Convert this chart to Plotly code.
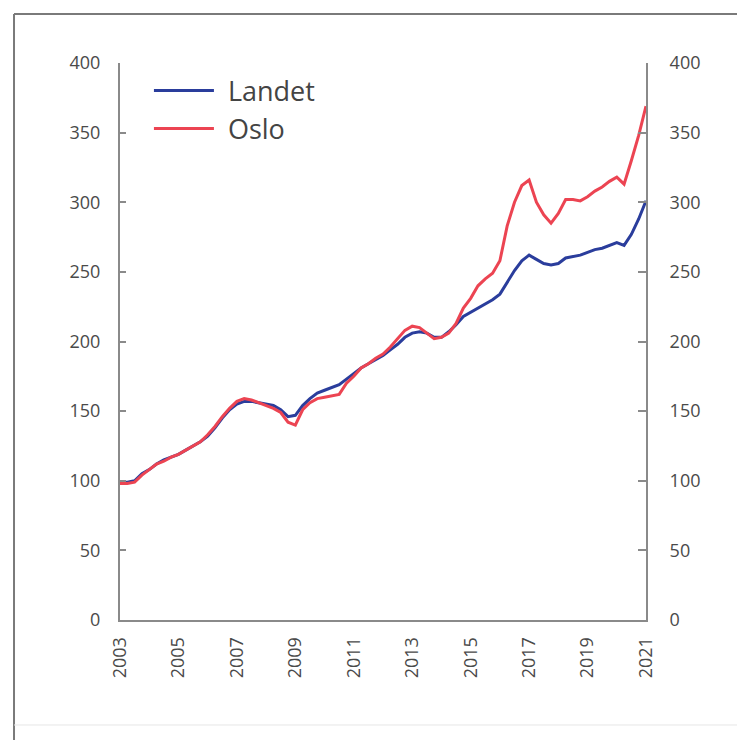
import plotly.graph_objects as go

# Quarterly observations (fractional year)
quarters = [
    2003.00, 2003.25, 2003.50, 2003.75, 2004.00, 2004.25, 2004.50, 2004.75,
    2005.00, 2005.25, 2005.50, 2005.75, 2006.00, 2006.25, 2006.50, 2006.75,
    2007.00, 2007.25, 2007.50, 2007.75, 2008.00, 2008.25, 2008.50, 2008.75,
    2009.00, 2009.25, 2009.50, 2009.75, 2010.00, 2010.25, 2010.50, 2010.75,
    2011.00, 2011.25, 2011.50, 2011.75, 2012.00, 2012.25, 2012.50, 2012.75,
    2013.00, 2013.25, 2013.50, 2013.75, 2014.00, 2014.25, 2014.50, 2014.75,
    2015.00, 2015.25, 2015.50, 2015.75, 2016.00, 2016.25, 2016.50, 2016.75,
    2017.00, 2017.25, 2017.50, 2017.75, 2018.00, 2018.25, 2018.50, 2018.75,
    2019.00, 2019.25, 2019.50, 2019.75, 2020.00, 2020.25, 2020.50, 2020.75,
    2021.00,
]

landet = [
    99, 99, 100, 105, 108, 112, 115, 117,
    119, 122, 125, 128, 132, 138, 145, 151,
    155, 157, 157, 156, 155, 154, 151, 146,
    147, 154, 159, 163, 165, 167, 169, 173,
    177, 181, 184, 187, 190, 194, 198, 203,
    206, 207, 206, 203, 203, 207, 212, 218,
    221, 224, 227, 230, 234, 243, 251, 258,
    262, 259, 256, 255, 256, 260, 261, 262,
    264, 266, 267, 269, 271, 269, 277, 288,
    301,
]

oslo = [
    98, 98, 99, 104, 108, 112, 114, 117,
    119, 122, 125, 128, 133, 139, 146, 152,
    157, 159, 158, 156, 154, 152, 149, 142,
    140, 151, 156, 159, 160, 161, 162, 170,
    175, 181, 184, 188, 191, 196, 202, 208,
    211, 210, 206, 202, 203, 206, 213, 224,
    231, 240, 245, 249, 258, 283, 300, 312,
    316, 300, 291, 285, 292, 302, 302, 301,
    304, 308, 311, 315, 318, 313, 330, 348,
    369,
]

series_names = ["Landet", "Oslo"]
x_ticks = [2003, 2005, 2007, 2009, 2011, 2013, 2015, 2017, 2019, 2021]
x_ticktext = [str(v) for v in x_ticks]
y_ticks = [0, 50, 100, 150, 200, 250, 300, 350, 400]

BLUE = "#2a3d9c"
RED = "#ec4452"
AXIS = "#8a8a8a"
TXT = "#4a4a4a"
PAD = "\u2009\u2009"

fig = go.Figure()
fig.add_trace(go.Scatter(x=quarters, y=landet, name=PAD + series_names[0], mode="lines",
                         line=dict(color=BLUE, width=3), legendgroup="a"))
fig.add_trace(go.Scatter(x=quarters, y=oslo, name=PAD + series_names[1], mode="lines",
                         line=dict(color=RED, width=3), legendgroup="b"))
# invisible trace to activate right axis
fig.add_trace(go.Scatter(x=[quarters[0]], y=[landet[0]], yaxis="y2",
                         mode="lines", showlegend=False, hoverinfo="skip",
                         line=dict(color="rgba(0,0,0,0)")))

fig.update_layout(
    width=745, height=740,
    margin=dict(l=112, r=107, t=55, b=128),
    paper_bgcolor="white", plot_bgcolor="white",
    font=dict(family="Open Sans", color=TXT, size=18),
    showlegend=True,
    legend=dict(x=0.055, y=0.994, xanchor="left", yanchor="top",
                bgcolor="rgba(0,0,0,0)", font=dict(size=27, color="#444444"),
                traceorder="grouped", tracegroupgap=0, itemwidth=60),
    xaxis=dict(range=[2003, 2021], tickvals=x_ticks, ticktext=x_ticktext,
               tickangle=-90, showgrid=False, zeroline=False,
               showline=True, linecolor=AXIS, linewidth=2,
               ticks="", ticklabelstandoff=8,
               tickfont=dict(size=18, color=TXT)),
    yaxis=dict(range=[0, 400], tickvals=y_ticks, showgrid=False, zeroline=False,
               showline=True, linecolor=AXIS, linewidth=2,
               ticks="inside", ticklen=6, tickcolor=AXIS, tickwidth=1.5,
               ticklabelstandoff=14, tickfont=dict(size=18, color=TXT)),
    yaxis2=dict(range=[0, 400], tickvals=y_ticks, overlaying="y", side="right",
                showgrid=False, zeroline=False,
                showline=True, linecolor=AXIS, linewidth=2,
                ticks="inside", ticklen=8, tickcolor=AXIS, tickwidth=1.5,
                ticklabelstandoff=18, tickfont=dict(size=18, color=TXT)),
    shapes=[
        # outer frame (top, left, bottom)
        dict(type="line", xref="paper", yref="paper",
             x0=-0.2015, x1=1.3, y0=1.088, y1=1.088,
             line=dict(color="#7a7a7a", width=2)),
        dict(type="line", xref="paper", yref="paper",
             x0=-0.2015, x1=-0.2015, y0=1.088, y1=-0.25,
             line=dict(color="#7a7a7a", width=2)),
        dict(type="line", xref="paper", yref="paper",
             x0=-0.2015, x1=1.3, y0=-0.1885, y1=-0.1885,
             line=dict(color="#e6e6e6", width=1)),
    ],
)

fig.write_html("out.html")
